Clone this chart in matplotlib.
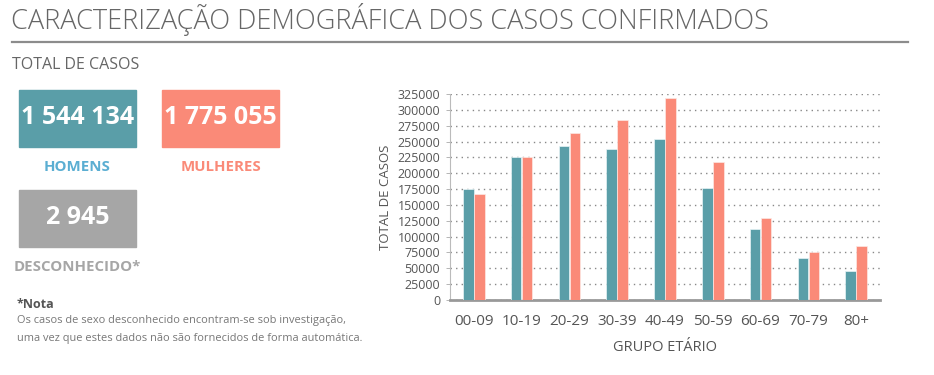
import numpy as np
import matplotlib
matplotlib.use("Agg")
import matplotlib.pyplot as plt
from matplotlib.patches import Rectangle

plt.rcParams['font.family'] = ['Open Sans', 'DejaVu Sans']

grupos = ["00-09", "10-19", "20-29", "30-39", "40-49", "50-59", "60-69", "70-79", "80+"]
homens = [175000, 225500, 243000, 237500, 254500, 176000, 112000, 67000, 45000]
mulheres = [167000, 225000, 263500, 283500, 319000, 217000, 130000, 76500, 85500]
total_homens = "1 544 134"
total_mulheres = "1 775 055"
total_desconhecido = "2 945"
yticks = list(range(0, 325001, 25000))

teal = "#5A9EA8"
salmon = "#FA8A78"
W, H = 934, 375

fig = plt.figure(figsize=(W / 100, H / 100), dpi=100)


def px(x, y):
    return x / W, 1 - y / H


# header
fig.text(*px(11, 20), "CARACTERIZAÇÃO DEMOGRÁFICA DOS CASOS CONFIRMADOS",
         fontsize=19.5, color="#666666", va="center", ha="left", fontweight="light")
fig.add_artist(plt.Line2D([12 / W, 908 / W], [1 - 42 / H] * 2, color="#8c8c8c", lw=1.6))
fig.text(*px(12, 65), "TOTAL DE CASOS", fontsize=11.5, color="#666666", va="center")

# boxes with totals
boxes = [(19, 90, teal, total_homens, "HOMENS", "#5BAED2"),
         (162, 90, salmon, total_mulheres, "MULHERES", salmon),
         (19, 190, "#A6A6A6", total_desconhecido, "DESCONHECIDO*", "#A6A6A6")]
for bx, by, col, num, lab, labcol in boxes:
    fig.add_artist(Rectangle(px(bx, by + 57), 117 / W, 57 / H, color=col,
                             transform=fig.transFigure))
    fig.text(*px(bx + 58.5, by + 27), num, fontsize=18, fontweight="bold",
             color="white", ha="center", va="center")
    fig.text(*px(bx + 58.5, by + 77), lab, fontsize=10.8, fontweight="bold",
             color=labcol, ha="center", va="center")

fig.text(*px(17, 304), "*Nota", fontsize=9, fontweight="bold", color="#555555", va="center")
fig.text(*px(17, 321), "Os casos de sexo desconhecido encontram-se sob investigação,",
         fontsize=7.9, color="#777777", va="center")
fig.text(*px(17, 339), "uma vez que estes dados não são fornecidos de forma automática.",
         fontsize=7.9, color="#777777", va="center")

# bar chart
ax = fig.add_axes([450 / W, 0.2, 430 / W, (300 - 94) / H])
x = np.arange(len(grupos))
bw = 0.22
ax.bar(x - 0.115, homens, bw, color=teal, edgecolor="#e8f4f6", lw=0.5, zorder=3)
ax.bar(x + 0.115, mulheres, bw, color=salmon, edgecolor="#fde8e4", lw=0.5, zorder=3)
ax.set_xlim(-0.5, len(grupos) - 0.5)
ax.set_ylim(0, 325000)
ax.set_yticks(yticks)
ax.set_yticklabels([str(v) for v in yticks])
ax.set_xticks(x)
ax.set_xticklabels(grupos)
ax.yaxis.grid(True, linestyle=(0, (1, 3)), color="#888888", lw=1, zorder=0)
ax.tick_params(axis="y", labelsize=9, colors="#555555", length=3, width=0.6, color="#aaaaaa", pad=4)
ax.tick_params(axis="x", labelsize=11, colors="#555555", length=0, pad=10)
for s in ["top", "right"]:
    ax.spines[s].set_visible(False)
ax.spines["left"].set_color("#bbbbbb")
ax.spines["left"].set_linewidth(0.8)
ax.spines["bottom"].set_color("#999999")
ax.spines["bottom"].set_linewidth(2)
ax.set_ylabel("TOTAL DE CASOS", fontsize=9.5, color="#555555", labelpad=4)
ax.set_xlabel("GRUPO ETÁRIO", fontsize=10.5, color="#555555", labelpad=8)

fig.savefig("out.png", dpi=100)
